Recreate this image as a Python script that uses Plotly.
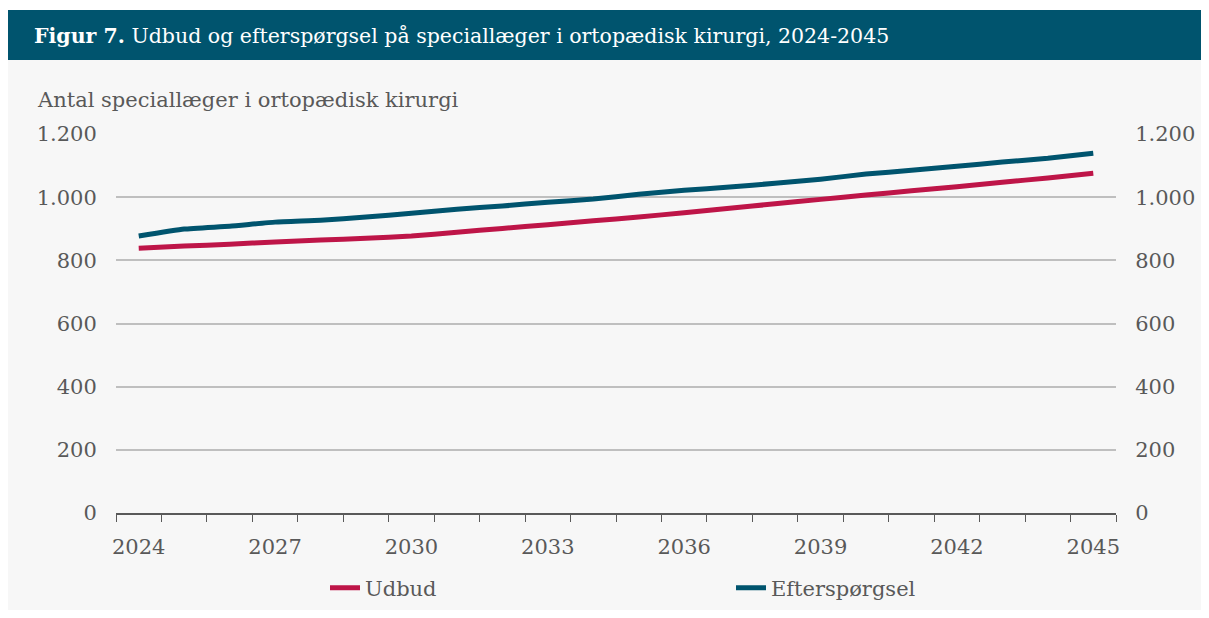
import plotly.graph_objects as go

years = list(range(2024, 2046))
udbud = [838, 845, 851, 858, 864, 870, 877, 889, 901, 913, 925, 937,
         951, 965, 979, 993, 1007, 1020, 1033, 1047, 1061, 1076]
efterspoergsel = [877, 899, 908, 921, 927, 937, 949, 962, 972, 984, 994, 1009,
                  1022, 1032, 1044, 1057, 1073, 1085, 1098, 1111, 1123, 1139]
x_labels = years[::3]
y_ticks = [0, 200, 400, 600, 800, 1000, 1200]

RED = "#BE1548"
BLUE = "#00546E"
GRAY_TXT = "#595959"
FONT = "DejaVu Serif"

fig = go.Figure()
fig.add_trace(go.Scatter(x=years, y=udbud, name="Udbud", mode="lines",
                         line=dict(color=RED, width=5, shape="spline", smoothing=0.4)))
fig.add_trace(go.Scatter(x=years, y=efterspoergsel, name="Efterspørgsel", mode="lines",
                         line=dict(color=BLUE, width=5, shape="spline", smoothing=0.4),
                         yaxis="y2"))

# page has an 8px body margin; work in page pixels and convert
OFF = 8
W, H = 1209 - 2 * OFF, 618 - 2 * OFF
PL, PR, PT, PB = 116, 1116, 134, 513  # plot area in page pixels
L, R = PL - OFF, W - (PR - OFF)
T, B = PT - OFF, H - (PB - OFF)
pw, ph = PR - PL, PB - PT

def px(xp):
    return (xp - PL) / pw

def py(yp):
    return (PB - yp) / ph

fig.update_layout(
    width=W, height=H,
    margin=dict(l=L, r=R, t=T, b=B, autoexpand=False),
    paper_bgcolor="#F7F7F7",
    plot_bgcolor="#F7F7F7",
    separators=",.",
    font=dict(family=FONT, size=21, color=GRAY_TXT),
    showlegend=True,
    legend=dict(orientation="h", x=px(325), y=py(588), xanchor="left", yanchor="middle",
                entrywidth=361, entrywidthmode="pixels",
                font=dict(family=FONT, size=21, color=GRAY_TXT),
                bgcolor="rgba(0,0,0,0)"),
    xaxis=dict(range=[2023.5, 2045.5], tickvals=x_labels, ticktext=[str(v) for v in x_labels],
               ticks="outside", ticklen=14, tickcolor="rgba(0,0,0,0)",
               showgrid=False, zeroline=False,
               showline=True, linecolor=GRAY_TXT, linewidth=1.5,
               tickfont=dict(family=FONT, size=21, color=GRAY_TXT),
               minor=dict(tickvals=[y - 0.5 for y in years] + [years[-1] + 0.5],
                          ticks="outside", ticklen=7, tickcolor=GRAY_TXT, tickwidth=1.2,
                          showgrid=False)),
    yaxis=dict(range=[0, 1200], tickvals=y_ticks, tickformat=",d",
               showgrid=True, gridcolor="#BFBFBF", gridwidth=1.5, zeroline=False,
               ticks="outside", ticklen=14, tickcolor="rgba(0,0,0,0)",
               tickfont=dict(family=FONT, size=21, color=GRAY_TXT)),
    yaxis2=dict(range=[0, 1200], tickvals=y_ticks, tickformat=",d", overlaying="y", side="right",
                showgrid=False, zeroline=False,
                ticks="outside", ticklen=14, tickcolor="rgba(0,0,0,0)",
                tickfont=dict(family=FONT, size=21, color=GRAY_TXT)),
    shapes=[
        dict(type="rect", xref="paper", yref="paper", x0=px(0), x1=px(1215), y0=py(10), y1=py(-5),
             fillcolor="white", line=dict(width=0), layer="below"),
        dict(type="rect", xref="paper", yref="paper", x0=px(0), x1=px(1215), y0=py(60), y1=py(10),
             fillcolor=BLUE, line=dict(width=0), layer="below"),
    ],
    annotations=[
        dict(xref="paper", yref="paper", x=px(32), y=py(36), xanchor="left", yanchor="middle",
             showarrow=False,
             text="<b>Figur 7.</b> Udbud og efterspørgsel på speciallæger i ortopædisk kirurgi, 2024-2045",
             font=dict(family=FONT, size=20.5, color="white")),
        dict(xref="paper", yref="paper", x=px(35), y=py(100), xanchor="left", yanchor="middle",
             showarrow=False, text="Antal speciallæger i ortopædisk kirurgi",
             font=dict(family=FONT, size=21, color=GRAY_TXT)),
    ],
)

fig.write_html("out.html")
